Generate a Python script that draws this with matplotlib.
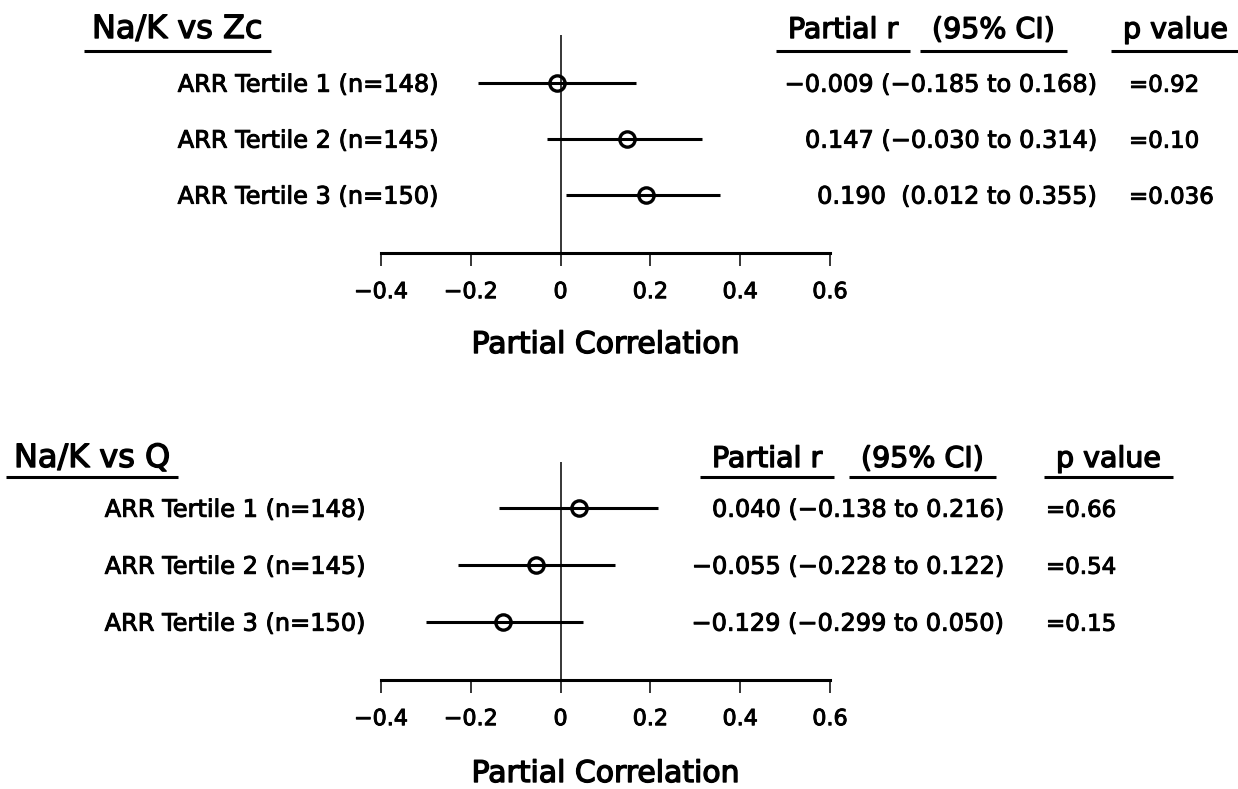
import matplotlib
matplotlib.use("Agg")
import matplotlib.pyplot as plt
import matplotlib.patheffects as pe
from matplotlib.lines import Line2D
from matplotlib.transforms import blended_transform_factory, ScaledTranslation

W, H, DPI = 1238, 789, 100

# ---- data ---------------------------------------------------------------
groups = ["ARR Tertile 1 (n=148)", "ARR Tertile 2 (n=145)", "ARR Tertile 3 (n=150)"]

zc_title = "Na/K vs Zc"
zc_r = [-0.009, 0.147, 0.190]
zc_lo = [-0.185, -0.030, 0.012]
zc_hi = [0.168, 0.314, 0.355]
zc_p = ["0.92", "0.10", "0.036"]

q_title = "Na/K vs Q"
q_r = [0.040, -0.055, -0.129]
q_lo = [-0.138, -0.228, -0.299]
q_hi = [0.216, 0.122, 0.050]
q_p = ["0.66", "0.54", "0.15"]

x_ticks = [-0.4, -0.2, 0, 0.2, 0.4, 0.6]
x_ticklabels = ["\u22120.4", "\u22120.2", "0", "0.2", "0.4", "0.6"]
headers = ["Partial r", "(95% CI)", "p value"]
x_label = "Partial Correlation"

plt.rcParams["font.family"] = ["DejaVu Sans"]

# slightly heavier glyphs for all text
HEAVY = [pe.withStroke(linewidth=0.7, foreground="black")]
HEAVY_L = [pe.withStroke(linewidth=1.0, foreground="black")]

fig = plt.figure(figsize=(W / DPI, H / DPI), dpi=DPI)
renderer = fig.canvas.get_renderer()


def fx(px):
    return px / W


def fy(py):
    return 1 - py / H


def fmt(v):
    return f"{v:.3f}".replace("-", "\u2212")


def label(*args, effects=HEAVY, **kw):
    t = fig.text(*args, **kw)
    t.set_path_effects(effects)
    return t


def underline(text_artist, y_px, pad):
    bb = text_artist.get_window_extent(renderer)
    fig.add_artist(Line2D([fx(bb.x0 - pad), fx(bb.x1 + pad)], [fy(y_px), fy(y_px)],
                          transform=fig.transFigure, color="black", lw=2.2,
                          solid_capstyle="butt"))


def panel(title, r, lo, hi, pvals, lay):
    top, bot = lay["ax_top"], lay["ax_bot"]
    ax = fig.add_axes([fx(381), fy(bot), fx(830 - 381), (bot - top) / H])
    ax.set_xlim(-0.4, 0.6)
    ax.set_ylim(lay["ylim"])
    for s in ("top", "left", "right"):
        ax.spines[s].set_visible(False)
    ax.spines["bottom"].set_linewidth(2.2)
    ax.set_yticks([])
    ax.set_xticks(x_ticks, x_ticklabels)
    ax.tick_params(axis="x", direction="out", length=9, width=1.1,
                   labelsize=16, pad=lay["tick_pad"], colors="black")
    for tl in ax.get_xticklabels():
        tl.set_path_effects(HEAVY)
    ax.axvline(0, color="black", lw=1.1, zorder=1)

    rows = list(range(1, len(r) + 1))
    ax.hlines(rows, lo, hi, color="black", lw=2.2, zorder=2)
    ax.plot(r, rows, "o", ms=11, mfc="none", mec="black", mew=2.4, zorder=3)

    ax.set_xlabel(x_label, fontsize=21.5, va="baseline")
    ax.xaxis.label.set_path_effects(HEAVY_L)
    ax.xaxis.set_label_coords(0.5, fy(lay["xlabel_y"]),
                              transform=blended_transform_factory(ax.transAxes, fig.transFigure))

    # row texts: baseline shifted so the cap height is centred on the row
    row_tr = blended_transform_factory(fig.transFigure, ax.transData) + \
        ScaledTranslation(0, -8.8 / DPI, fig.dpi_scale_trans)
    for i, y in enumerate(rows):
        label(fx(lay["label_right"]), y, groups[i], transform=row_tr,
              ha="right", va="baseline", fontsize=17.3)
        gap = "  " if lo[i] >= 0 else " "
        ci = f"{fmt(r[i])}{gap}({fmt(lo[i])} to {fmt(hi[i])})"
        label(fx(lay["value_right"]), y, ci, transform=row_tr,
              ha="right", va="baseline", fontsize=17.3)
        label(fx(lay["p_left"]), y, "=" + pvals[i], transform=row_tr,
              ha="left", va="baseline", fontsize=16.5)

    t = label(fx(lay["title_x"]), fy(lay["head_base"]), title,
              ha="left", va="baseline", fontsize=23, effects=HEAVY_L)
    underline(t, lay["uline_y"], 8)
    for hx, htxt in zip(lay["head_x"], headers):
        h = label(fx(hx), fy(lay["head_base"]), htxt, ha="left", va="baseline",
                  fontsize=20.5, effects=HEAVY_L)
        underline(h, lay["uline_y"], 12)
    return ax


top_layout = dict(ax_top=35, ax_bot=253, ylim=(4.04, 0.143), tick_pad=12,
                  xlabel_y=353, label_right=438, value_right=1098, p_left=1129,
                  title_x=92, head_base=38, uline_y=51, head_x=[788, 932, 1123])
bottom_layout = dict(ax_top=462, ax_bot=680, ylim=(4.02, 0.193), tick_pad=12,
                     xlabel_y=782, label_right=365, value_right=1005, p_left=1046,
                     title_x=14, head_base=467, uline_y=477, head_x=[712, 861, 1056])

panel(zc_title, zc_r, zc_lo, zc_hi, zc_p, top_layout)
panel(q_title, q_r, q_lo, q_hi, q_p, bottom_layout)

fig.savefig("out.png", dpi=DPI, facecolor="white")
